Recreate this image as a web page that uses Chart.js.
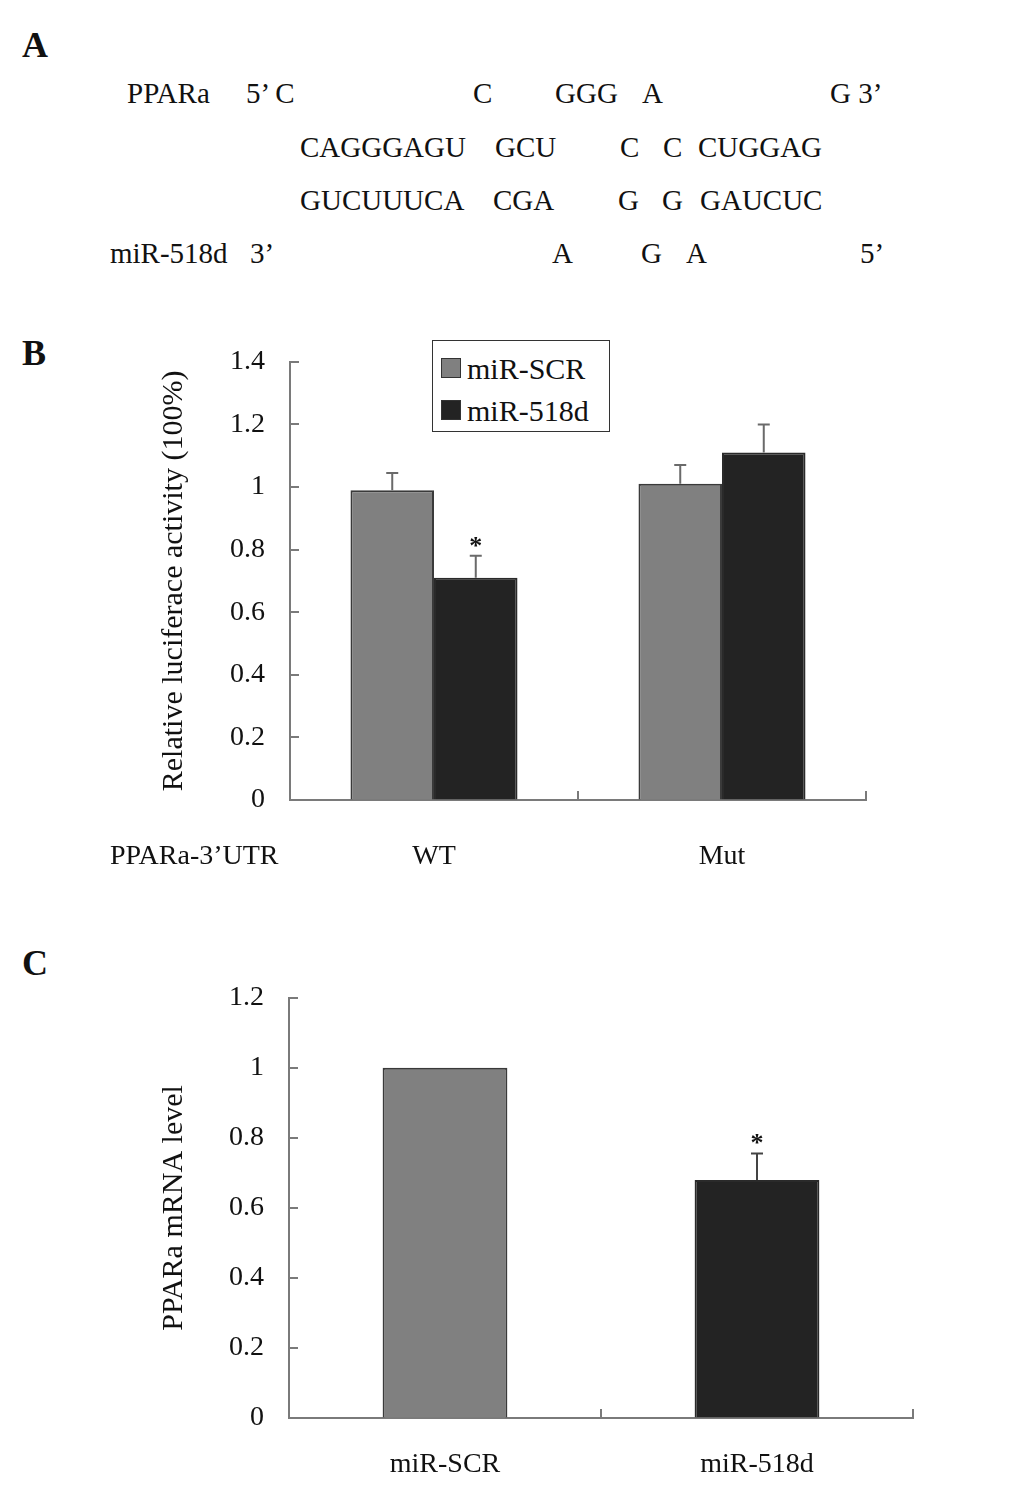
<!DOCTYPE html>
<html lang="en">
<head>
  <meta charset="UTF-8">
  <title>PPARa / miR-518d</title>
  <script src="https://cdn.jsdelivr.net/npm/chart.js"></script>
  <style>
    body { margin: 0; background: #fff; font-family: "Liberation Serif", "Times New Roman", serif; color: #111; }
    .fig { position: relative; width: 1033px; height: 1499px; overflow: hidden; }
    .t { position: absolute; font-size: 29px; line-height: 1; white-space: pre; transform: translateY(-50%); }
    .panel { font-weight: bold; font-size: 36px; }
    .box { position: absolute; }
    .legend { position: absolute; left: 432px; top: 340px; width: 178px; height: 92px; border: 1.5px solid #333; background: #fff; box-sizing: border-box; }
    .legend div { position: absolute; left: 8px; font-size: 30px; line-height: 1; white-space: nowrap; }
    .legend span { display: inline-block; width: 18px; height: 18px; border: 1.5px solid #333; margin-right: 6px; vertical-align: 1px; }
  </style>
</head>
<body>
<div class="fig">
  <!-- panel letters -->
  <div class="t panel" style="left:22px; top:45px;">A</div>
  <div class="t panel" style="left:22px; top:353px;">B</div>
  <div class="t panel" style="left:22px; top:963px;">C</div>

  <!-- A: binding site alignment -->
  <div class="t" style="left:127px; top:93px;">PPARa</div>
  <div class="t" style="left:246px; top:93px;">5’ C</div>
  <div class="t" style="left:473px; top:93px;">C</div>
  <div class="t" style="left:555px; top:93px;">GGG</div>
  <div class="t" style="left:642px; top:93px;">A</div>
  <div class="t" style="left:830px; top:93px;">G 3’</div>

  <div class="t" style="left:300px; top:147px;">CAGGGAGU</div>
  <div class="t" style="left:495px; top:147px;">GCU</div>
  <div class="t" style="left:620px; top:147px;">C</div>
  <div class="t" style="left:663px; top:147px;">C</div>
  <div class="t" style="left:698px; top:147px;">CUGGAG</div>

  <div class="t" style="left:300px; top:200px;">GUCUUUCA</div>
  <div class="t" style="left:493px; top:200px;">CGA</div>
  <div class="t" style="left:618px; top:200px;">G</div>
  <div class="t" style="left:662px; top:200px;">G</div>
  <div class="t" style="left:700px; top:200px;">GAUCUC</div>

  <div class="t" style="left:110px; top:253px;">miR-518d</div>
  <div class="t" style="left:250px; top:253px;">3’</div>
  <div class="t" style="left:552px; top:253px;">A</div>
  <div class="t" style="left:641px; top:253px;">G</div>
  <div class="t" style="left:686px; top:253px;">A</div>
  <div class="t" style="left:860px; top:253px;">5’</div>

  <!-- B -->
  <div class="box" style="left:140px; top:320px; width:800px; height:570px;">
    <canvas id="chartB"></canvas>
  </div>
  <div class="t" style="left:110px; top:855px; font-size:28px;">PPARa-3’UTR</div>
  <div class="legend">
    <div style="top:13px;"><span style="background:#808080;"></span>miR-SCR</div>
    <div style="top:55px;"><span style="background:#232323;"></span>miR-518d</div>
  </div>

  <!-- C -->
  <div class="box" style="left:140px; top:956px; width:800px; height:543px;">
    <canvas id="chartC"></canvas>
  </div>
</div>

<script>
  // panel B data
  const groupsB = ["WT", "Mut"];
  const scrB = [0.99, 1.01];
  const scrErrB = [0.055, 0.06];
  const d518B = [0.71, 1.11];
  const d518ErrB = [0.07, 0.09];
  const d518StarB = [true, false];
  const yTicksB = [0, 0.2, 0.4, 0.6, 0.8, 1, 1.2, 1.4];

  // panel C data
  const groupsC = ["miR-SCR", "miR-518d"];
  const valuesC = [1.0, 0.68];
  const errC = [0, 0.075];
  const starC = [false, true];
  const yTicksC = [0, 0.2, 0.4, 0.6, 0.8, 1, 1.2];

  const serif = "'Liberation Serif', 'Times New Roman', serif";
  const axisGray = "#7a7a7a";

  // error bars + asterisks, placed with the chart's own scales
  const errorBars = {
    id: "errorBars",
    afterDatasetsDraw(chart) {
      const ctx = chart.ctx;
      const y = chart.scales.y;
      chart.data.datasets.forEach((ds, di) => {
        const meta = chart.getDatasetMeta(di);
        meta.data.forEach((bar, i) => {
          const err = ds.errors ? ds.errors[i] : 0;
          const top = y.getPixelForValue(ds.data[i] + err);
          ctx.save();
          if (err > 0) {
            ctx.strokeStyle = ds.errColor || "#666";
            ctx.lineWidth = 2;
            ctx.beginPath();
            ctx.moveTo(bar.x, bar.y);
            ctx.lineTo(bar.x, top);
            ctx.moveTo(bar.x - 6, top);
            ctx.lineTo(bar.x + 6, top);
            ctx.stroke();
          }
          if (ds.stars && ds.stars[i]) {
            ctx.fillStyle = "#111";
            ctx.font = "bold 26px " + serif;
            ctx.textAlign = "center";
            ctx.textBaseline = "middle";
            ctx.fillText("*", bar.x, top - 9);
          }
          ctx.restore();
        });
      });
    }
  };

  // short tick marks pointing into the plot
  const innerTicks = {
    id: "innerTicks",
    afterDraw(chart) {
      const ctx = chart.ctx;
      const area = chart.chartArea;
      const x = chart.scales.x, y = chart.scales.y;
      ctx.save();
      ctx.strokeStyle = axisGray;
      ctx.lineWidth = 2;
      ctx.beginPath();
      y.ticks.forEach((t, i) => {
        const py = Math.round(y.getPixelForTick(i));
        ctx.moveTo(area.left, py);
        ctx.lineTo(area.left + 9, py);
      });
      for (let i = 0; i <= chart.data.labels.length; i++) {
        const px = Math.round(x.getPixelForValue(i - 0.5));
        ctx.moveTo(px, area.bottom);
        ctx.lineTo(px, area.bottom - 9);
      }
      ctx.stroke();
      ctx.restore();
    }
  };

  function makeOptions(yMax, yTicks, title, yWidth, xHeight, pad, xPad) {
    return {
      responsive: true,
      maintainAspectRatio: false,
      animation: false,
      layout: { padding: pad },
      plugins: { legend: { display: false }, tooltip: { enabled: false } },
      scales: {
        x: {
          offset: true,
          grid: { display: true, drawOnChartArea: false, drawTicks: false, offset: true },
          border: { color: axisGray, width: 2 },
          ticks: { color: "#111", font: { family: serif, size: 28 }, padding: xPad, maxRotation: 0 },
          afterFit(s) { s.height = xHeight; }
        },
        y: {
          min: 0,
          max: yMax,
          grid: { display: true, drawOnChartArea: false, drawTicks: false },
          border: { color: axisGray, width: 2 },
          afterBuildTicks(s) { s.ticks = yTicks.map(v => ({ value: v })); },
          ticks: { color: "#111", font: { family: serif, size: 28 }, padding: 25, callback: v => String(v) },
          title: { display: true, text: title, color: "#111", font: { family: serif, size: 30 }, padding: { top: 16, bottom: 0 } },
          afterFit(s) { s.width = yWidth; }
        }
      }
    };
  }

  new Chart(document.getElementById("chartB"), {
    type: "bar",
    data: {
      labels: groupsB,
      datasets: [
        { label: "miR-SCR", data: scrB, errors: scrErrB, backgroundColor: "#808080", borderColor: "#3a3a3a", borderWidth: 2, errColor: "#6a6a6a",
          categoryPercentage: 0.58, barPercentage: 1 },
        { label: "miR-518d", data: d518B, errors: d518ErrB, stars: d518StarB, backgroundColor: "#232323", borderColor: "#2a2a2a", borderWidth: 2, errColor: "#6a6a6a",
          categoryPercentage: 0.58, barPercentage: 1 }
      ]
    },
    options: makeOptions(1.4, yTicksB, "Relative luciferace activity (100%)", 150, 90, { top: 22, right: 74, left: 0, bottom: 0 }, 40),
    plugins: [errorBars, innerTicks]
  });

  new Chart(document.getElementById("chartC"), {
    type: "bar",
    data: {
      labels: groupsC,
      datasets: [
        { label: "PPARa mRNA", data: valuesC, errors: errC, stars: starC,
          backgroundColor: ["#808080", "#232323"], borderColor: ["#3a3a3a", "#2a2a2a"], borderWidth: 2, errColor: "#444",
          categoryPercentage: 0.4, barPercentage: 1 }
      ]
    },
    options: makeOptions(1.2, yTicksC, "PPARa mRNA level", 149, 81, { top: 33, right: 27, left: 0, bottom: 0 }, 30),
    plugins: [errorBars, innerTicks]
  });
</script>
</body>
</html>
